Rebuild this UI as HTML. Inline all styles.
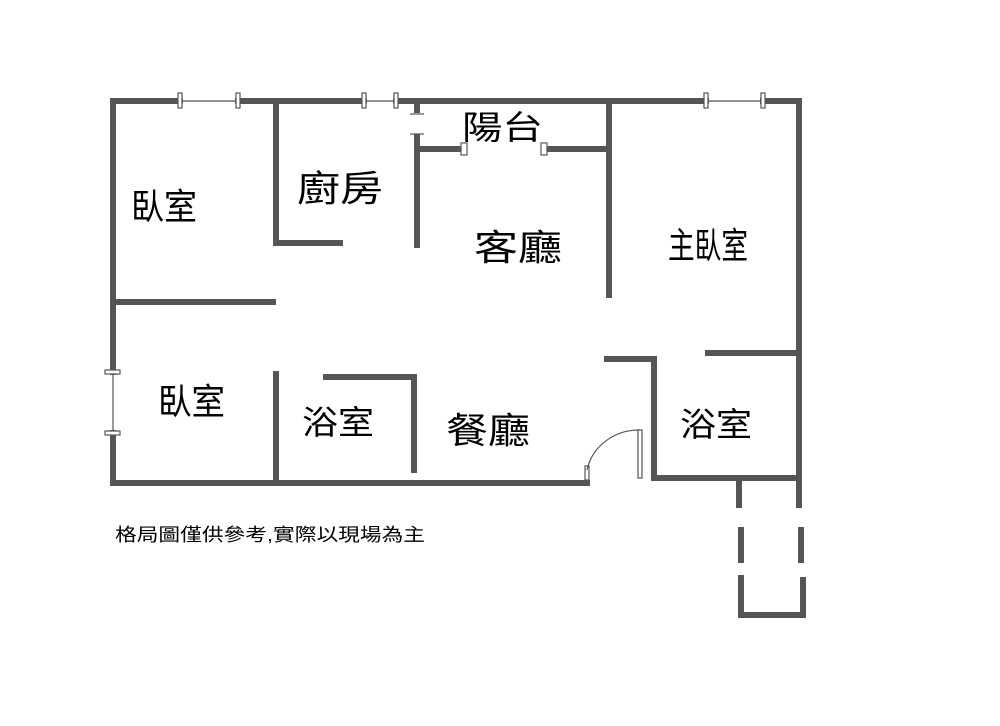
<!DOCTYPE html>
<html><head><meta charset="utf-8"><style>
body{margin:0;background:#fff;width:1000px;height:721px;overflow:hidden}
text{font-family:"Liberation Sans","Noto Sans CJK TC",sans-serif;fill:#000}
</style></head><body>
<svg width="1000" height="721" viewBox="0 0 1000 721">
<g stroke="#555" stroke-width="6" fill="none" stroke-linecap="square">
<path d="M113,101 H180 M238,101 H364 M396,101 H706 M763,101 H799 V505"/>
<path d="M113,101 V372 M113,433 V483 H587"/>
<path d="M276,101 V243 H340"/>
<path d="M113,302 H273"/>
<path d="M417,101 V110 M417,137 V245"/>
<path d="M417,149 H461 M548,149 H607"/>
<path d="M609,101 V295"/>
<path d="M708,353 H799"/>
<path d="M607,359 H654 V478 H799"/>
<path d="M276,374 V478"/>
<path d="M326,377 H414 V470"/>
<path d="M739,480 V505"/>
<path d="M741,530 V560 M741,578 V615 H803 V580 M801,560 V530"/>
</g>
<g stroke="#555" stroke-width="1.2" fill="#fff">
<line x1="180" y1="101" x2="238" y2="101"/><line x1="364" y1="101" x2="396" y2="101"/><line x1="706" y1="101" x2="763" y2="101"/>
<line x1="113" y1="372" x2="113" y2="433"/>
<rect x="178" y="93" width="4" height="15"/><rect x="236" y="93" width="4" height="15"/>
<rect x="362" y="93" width="4" height="15"/><rect x="394" y="93" width="4" height="15"/>
<rect x="704" y="93" width="4" height="15"/><rect x="761" y="93" width="4" height="15"/>
<rect x="105" y="370" width="15" height="4"/><rect x="105" y="431" width="15" height="4"/>
<rect x="461" y="143" width="6" height="12"/><rect x="541" y="143" width="6" height="12"/>
<line x1="410" y1="114" x2="424" y2="114"/><line x1="410" y1="134" x2="424" y2="134"/>
<rect x="638" y="430" width="4" height="48"/><rect x="585" y="466" width="4" height="14"/>
<path d="M587,470 A53,50 0 0 1 640,430" fill="none"/>
</g>
<g font-size="36">
<text x="131" y="219" textLength="66" lengthAdjust="spacingAndGlyphs">臥室</text>
<text x="297" y="201" textLength="86" lengthAdjust="spacingAndGlyphs">廚房</text>
<text x="474" y="260" textLength="88" lengthAdjust="spacingAndGlyphs">客廳</text>
<text x="668" y="258" textLength="80" lengthAdjust="spacingAndGlyphs">主臥室</text>
<text x="158" y="414" textLength="67" lengthAdjust="spacingAndGlyphs">臥室</text>
<text x="446" y="443" textLength="84" lengthAdjust="spacingAndGlyphs">餐廳</text>
</g>
<g font-size="33">
<text x="462" y="139" textLength="81" lengthAdjust="spacingAndGlyphs">陽台</text>
<text x="302" y="434" textLength="72" lengthAdjust="spacingAndGlyphs">浴室</text>
<text x="680" y="436" textLength="72" lengthAdjust="spacingAndGlyphs">浴室</text>
</g>
<text x="115" y="541" font-size="18" textLength="310" lengthAdjust="spacingAndGlyphs">格局圖僅供參考,實際以現場為主</text>
</svg>
</body></html>
